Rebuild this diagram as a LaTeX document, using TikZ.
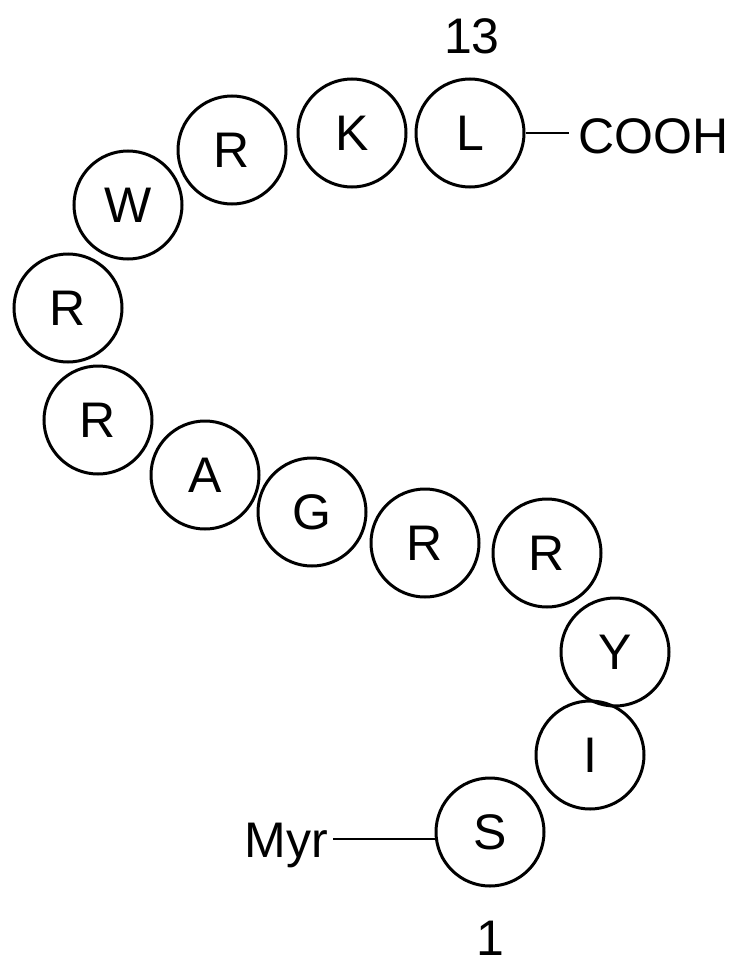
\documentclass[tikz,border=0pt]{standalone}
\usepackage{fontspec}
\setmainfont{Liberation Sans}
\begin{document}
\begin{tikzpicture}[x=1pt,y=-1pt,
  aa/.style={circle,draw,line width=3pt,minimum size=108pt,inner sep=0pt,font=\fontsize{50}{60}\selectfont},
  lab/.style={font=\fontsize{50}{60}\selectfont,inner sep=0pt}]
\useasboundingbox (0,0) rectangle (750,971);
\node[aa] (s) at (490,832) {S};
\node[aa] (i) at (590,755) {I};
\node[aa] (y) at (615,652) {Y};
\node[aa] (r1) at (547,553) {R};
\node[aa] (r2) at (425,543) {R};
\node[aa] (g) at (312,512) {G};
\node[aa] (a) at (205,475) {A};
\node[aa] (r3) at (98,420) {R};
\node[aa] (r4) at (68,308) {R};
\node[aa] (w) at (128,205) {W};
\node[aa] (r5) at (232,150) {R};
\node[aa] (k) at (352,133) {K};
\node[aa] (l) at (470,133) {L};
\node[lab,anchor=east] (myr) at (328,845) {Myr};
\node[lab,anchor=west] (cooh) at (578,136) {COOH};
\node[lab] (n13) at (472,36) {13};
\node[lab] (n1) at (490,938) {1};
\draw[line width=2.5pt] (333,839) -- (s.west|-0,839);
\draw[line width=2.5pt] (l.east) -- (569,133);
\end{tikzpicture}
\end{document}
